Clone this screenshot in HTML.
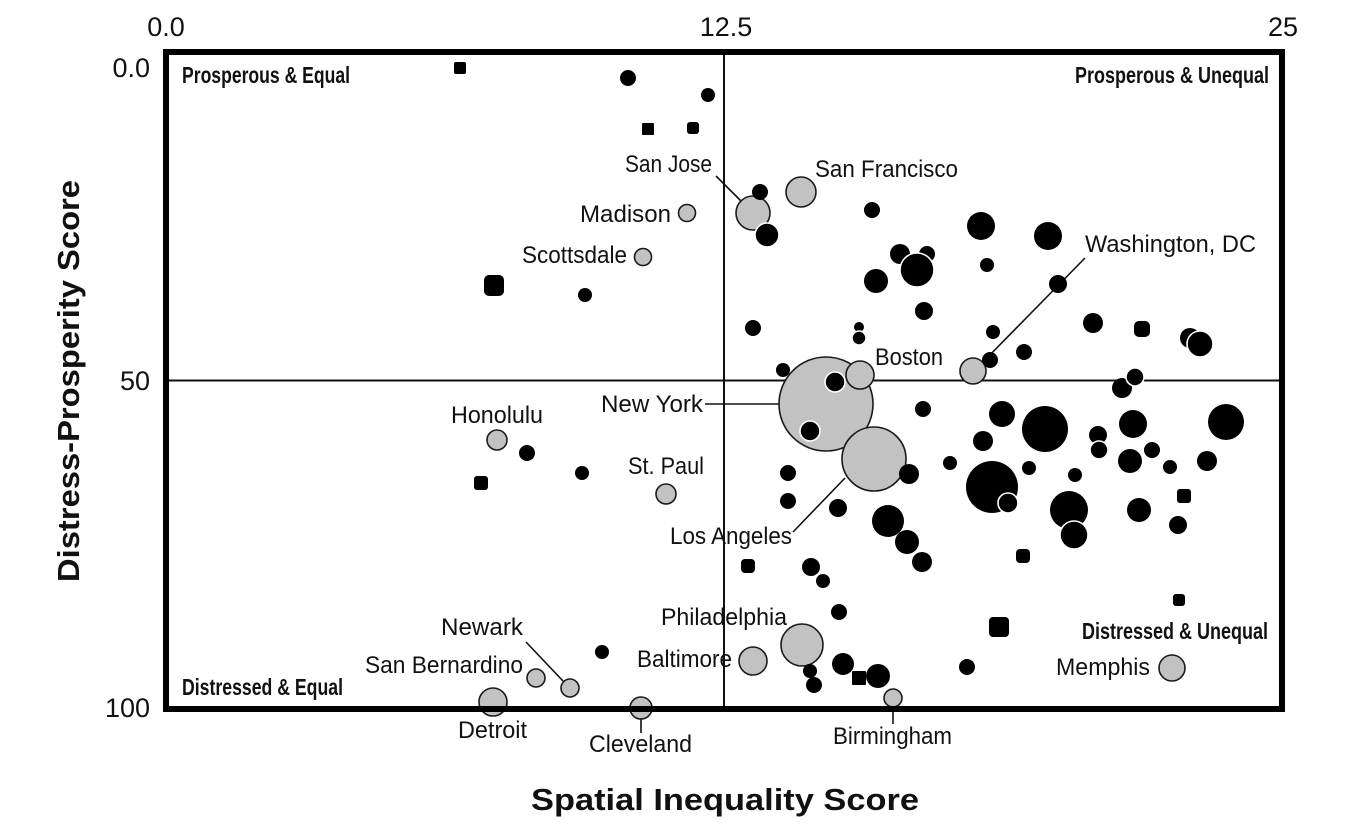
<!DOCTYPE html>
<html><head><meta charset="utf-8"><style>
html,body{margin:0;padding:0;background:#fff;width:1366px;height:829px;overflow:hidden}
svg{display:block}
.t{font-family:"Liberation Sans",sans-serif;fill:#111}
.c{font-family:"Liberation Sans",sans-serif;font-size:24px;fill:#111}
.q{font-family:"Liberation Sans",sans-serif;font-size:23px;font-weight:bold;fill:#111}
.ax{font-family:"Liberation Sans",sans-serif;font-size:27px;fill:#111}
.g{fill:#c2c2c2;stroke:#1a1a1a;stroke-width:1.6}
.b{fill:#000}
.bw{fill:#000;stroke:#fff;stroke-width:1.6}
.l{stroke:#111;stroke-width:1.6;fill:none}
</style></head><body>
<svg width="1366" height="829" viewBox="0 0 1366 829" xmlns="http://www.w3.org/2000/svg">
<rect width="1366" height="829" fill="#fff"/>

<!-- tick labels -->
<text class="ax" x="166" y="36" text-anchor="middle">0.0</text>
<text class="ax" x="726" y="36" text-anchor="middle">12.5</text>
<text class="ax" x="1283" y="36" text-anchor="middle">25</text>
<text class="ax" x="150" y="77" text-anchor="end">0.0</text>
<text class="ax" x="150" y="390" text-anchor="end">50</text>
<text class="ax" x="150" y="717" text-anchor="end">100</text>

<!-- axis titles -->
<text class="t" x="725" y="810" text-anchor="middle" font-size="31" font-weight="bold" textLength="388" lengthAdjust="spacingAndGlyphs">Spatial Inequality Score</text>
<text class="t" transform="translate(79,381) rotate(-90)" x="0" y="0" text-anchor="middle" font-size="31" font-weight="bold" textLength="402" lengthAdjust="spacingAndGlyphs">Distress-Prosperity Score</text>

<!-- quadrant lines -->
<line x1="724" y1="52" x2="724" y2="709" stroke="#111" stroke-width="2"/>
<line x1="166" y1="380.5" x2="1282" y2="380.5" stroke="#111" stroke-width="2"/>

<!-- quadrant labels -->
<text class="q" x="182" y="83" textLength="168" lengthAdjust="spacingAndGlyphs">Prosperous &amp; Equal</text>
<text class="q" x="1075" y="83" textLength="194" lengthAdjust="spacingAndGlyphs">Prosperous &amp; Unequal</text>
<text class="q" x="182" y="695" textLength="161" lengthAdjust="spacingAndGlyphs">Distressed &amp; Equal</text>
<text class="q" x="1082" y="639" textLength="186" lengthAdjust="spacingAndGlyphs">Distressed &amp; Unequal</text>

<!-- leader lines -->
<line class="l" x1="716" y1="176" x2="741" y2="201"/>
<line class="l" x1="1085" y1="258" x2="982" y2="363"/>
<line class="l" x1="705" y1="404" x2="779" y2="404"/>
<line class="l" x1="793" y1="532" x2="845" y2="478"/>
<line class="l" x1="526" y1="642" x2="563" y2="681"/>
<line class="l" x1="641" y1="718" x2="641" y2="733"/>
<line class="l" x1="893" y1="707" x2="893" y2="724"/>

<!-- gray circles -->
<circle class="g" cx="826" cy="404" r="47"/>
<circle class="g" cx="860" cy="375" r="14"/>
<circle class="g" cx="874" cy="459" r="32"/>
<circle class="g" cx="753" cy="213" r="17"/>
<circle class="g" cx="801" cy="192" r="15"/>
<circle class="g" cx="687" cy="213" r="8.5"/>
<circle class="g" cx="643" cy="257" r="8.5"/>
<circle class="g" cx="973" cy="371" r="13"/>
<circle class="g" cx="497" cy="440" r="10"/>
<circle class="g" cx="666" cy="494" r="10"/>
<circle class="g" cx="802" cy="645" r="21"/>
<circle class="g" cx="753" cy="661" r="14"/>
<circle class="g" cx="1172" cy="668" r="13"/>
<circle class="g" cx="570" cy="688" r="9"/>
<circle class="g" cx="536" cy="678" r="9"/>
<circle class="g" cx="493" cy="702" r="14"/>
<circle class="g" cx="641" cy="708" r="11"/>
<circle class="g" cx="893" cy="698" r="9"/>

<!-- black dots -->
<g class="b">
<rect x="454" y="62" width="12" height="12" rx="2"/>
<circle cx="628" cy="78" r="8"/>
<circle cx="708" cy="95" r="7"/>
<rect x="642" y="123" width="12" height="12" rx="1"/>
<rect x="687" y="122" width="12" height="12" rx="3"/>
<rect x="484" y="275" width="20" height="21" rx="5"/>
<circle cx="585" cy="295" r="7"/>
<circle cx="760" cy="192" r="8"/>
<circle cx="872" cy="210" r="8"/>
<circle cx="981" cy="226" r="14"/>
<circle cx="1048" cy="236" r="14"/>
<circle cx="900" cy="254" r="10"/>
<circle cx="927" cy="254" r="8"/>
<circle cx="876" cy="281" r="12"/>
<circle cx="987" cy="265" r="7"/>
<circle cx="924" cy="311" r="9"/>
<circle cx="753" cy="328" r="8"/>
<circle cx="859" cy="327" r="5"/>
<circle cx="993" cy="332" r="7"/>
<circle cx="1058" cy="284" r="9"/>
<circle cx="1024" cy="352" r="8"/>
<circle cx="990" cy="360" r="8"/>
<circle cx="1093" cy="323" r="10"/>
<rect x="1134" y="321" width="16" height="16" rx="5"/>
<circle cx="1190" cy="338" r="10"/>
<circle cx="1122" cy="388" r="10"/>
<circle cx="783" cy="370" r="7"/>
<circle cx="923" cy="409" r="8"/>
<circle cx="1002" cy="414" r="13"/>
<circle cx="1045" cy="429" r="23"/>
<circle cx="983" cy="441" r="10"/>
<circle cx="950" cy="463" r="7"/>
<circle cx="992" cy="487" r="26"/>
<circle cx="1029" cy="468" r="7"/>
<circle cx="1098" cy="435" r="9"/>
<circle cx="1133" cy="424" r="14"/>
<circle cx="1226" cy="422" r="18"/>
<circle cx="1152" cy="450" r="8"/>
<circle cx="1130" cy="461" r="12"/>
<circle cx="1170" cy="467" r="7"/>
<circle cx="1207" cy="461" r="10"/>
<circle cx="1075" cy="475" r="7"/>
<circle cx="1069" cy="510" r="19"/>
<circle cx="1139" cy="510" r="12"/>
<rect x="1177" y="489" width="14" height="14" rx="3"/>
<circle cx="1178" cy="525" r="9"/>
<rect x="1016" y="549" width="14" height="14" rx="4"/>
<circle cx="909" cy="474" r="10"/>
<circle cx="788" cy="473" r="8"/>
<circle cx="788" cy="501" r="8"/>
<circle cx="838" cy="508" r="9"/>
<circle cx="888" cy="521" r="16"/>
<circle cx="907" cy="542" r="12"/>
<circle cx="922" cy="562" r="10"/>
<rect x="741" y="559" width="14" height="14" rx="4"/>
<circle cx="811" cy="567" r="9"/>
<circle cx="823" cy="581" r="7"/>
<circle cx="839" cy="612" r="8"/>
<rect x="989" y="617" width="20" height="20" rx="4"/>
<rect x="1173" y="594" width="12" height="12" rx="3"/>
<circle cx="843" cy="664" r="11"/>
<rect x="852" y="671" width="14" height="14" rx="1"/>
<circle cx="878" cy="676" r="12"/>
<circle cx="810" cy="671" r="7"/>
<circle cx="814" cy="685" r="8"/>
<circle cx="967" cy="667" r="8"/>
<circle cx="602" cy="652" r="7"/>
<circle cx="527" cy="453" r="8"/>
<circle cx="582" cy="473" r="7"/>
<rect x="474" y="476" width="14" height="14" rx="3"/>
</g>
<g class="bw">
<circle cx="767" cy="235" r="12"/>
<circle cx="917" cy="270" r="17"/>
<circle cx="859" cy="338" r="7"/>
<circle cx="1200" cy="344" r="13"/>
<circle cx="1135" cy="377" r="9"/>
<circle cx="835" cy="382" r="10"/>
<circle cx="810" cy="431" r="10"/>
<circle cx="1008" cy="503" r="10"/>
<circle cx="1099" cy="450" r="9"/>
<circle cx="1074" cy="535" r="14"/>
</g>

<!-- city labels -->
<text class="c" x="625" y="172" textLength="87" lengthAdjust="spacingAndGlyphs">San Jose</text>
<text class="c" x="815" y="177" textLength="143" lengthAdjust="spacingAndGlyphs">San Francisco</text>
<text class="c" x="580" y="222" textLength="91" lengthAdjust="spacingAndGlyphs">Madison</text>
<text class="c" x="522" y="263" textLength="105" lengthAdjust="spacingAndGlyphs">Scottsdale</text>
<text class="c" x="1085" y="252" textLength="171" lengthAdjust="spacingAndGlyphs">Washington, DC</text>
<text class="c" x="875" y="365" textLength="68" lengthAdjust="spacingAndGlyphs">Boston</text>
<text class="c" x="601" y="412" textLength="102" lengthAdjust="spacingAndGlyphs">New York</text>
<text class="c" x="451" y="423" textLength="92" lengthAdjust="spacingAndGlyphs">Honolulu</text>
<text class="c" x="628" y="474" textLength="76" lengthAdjust="spacingAndGlyphs">St. Paul</text>
<text class="c" x="670" y="544" textLength="122" lengthAdjust="spacingAndGlyphs">Los Angeles</text>
<text class="c" x="661" y="625" textLength="126" lengthAdjust="spacingAndGlyphs">Philadelphia</text>
<text class="c" x="637" y="667" textLength="95" lengthAdjust="spacingAndGlyphs">Baltimore</text>
<text class="c" x="441" y="635" textLength="82" lengthAdjust="spacingAndGlyphs">Newark</text>
<text class="c" x="365" y="673" textLength="158" lengthAdjust="spacingAndGlyphs">San Bernardino</text>
<text class="c" x="458" y="738" textLength="69" lengthAdjust="spacingAndGlyphs">Detroit</text>
<text class="c" x="589" y="752" textLength="103" lengthAdjust="spacingAndGlyphs">Cleveland</text>
<text class="c" x="833" y="744" textLength="119" lengthAdjust="spacingAndGlyphs">Birmingham</text>
<text class="c" x="1056" y="675" textLength="94" lengthAdjust="spacingAndGlyphs">Memphis</text>

<!-- frame -->
<rect x="166" y="52" width="1116" height="657" fill="none" stroke="#000" stroke-width="6"/>
</svg>
</body></html>
